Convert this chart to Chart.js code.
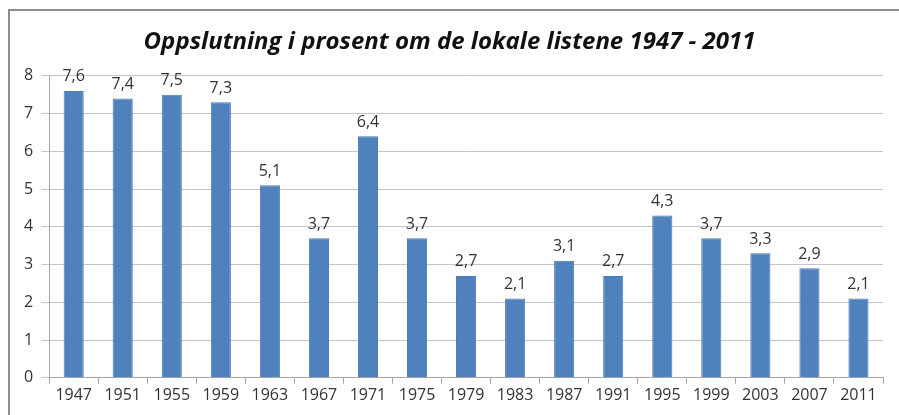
<!DOCTYPE html>
<html lang="no">
<head>
<meta charset="utf-8">
<title>Oppslutning lokale lister</title>
<style>
  body { margin: 0; background: #fff; }
  #wrap { position: relative; width: 899px; height: 415px; }
  #frame { position: absolute; left: 8px; top: 9px; width: 891px; height: 406px;
           border-left: 2px solid #8c8c8c; border-top: 2px solid #8c8c8c; box-sizing: border-box; }
  canvas { position: absolute; left: 0; top: 0; }
</style>
</head>
<body>
<div id="wrap">
  <div id="frame"></div>
  <canvas id="myChart" width="899" height="415"></canvas>
</div>
<script src="https://cdn.jsdelivr.net/npm/chart.js"></script>
<script>
  const years = ['1947', '1951', '1955', '1959', '1963', '1967', '1971', '1975', '1979',
                 '1983', '1987', '1991', '1995', '1999', '2003', '2007', '2011'];
  const share = [7.6, 7.4, 7.5, 7.3, 5.1, 3.7, 6.4, 3.7, 2.7, 2.1, 3.1, 2.7, 4.3, 3.7, 3.3, 2.9, 2.1];
  const titleText = 'Oppslutning i prosent om de lokale listene 1947 - 2011';

  const fmt = v => String(v).replace('.', ',');

  // labels over each bar
  const barLabels = {
    id: 'barLabels',
    afterDatasetsDraw(chart) {
      const ctx = chart.ctx;
      ctx.save();
      ctx.font = '16px "Open Sans", sans-serif';
      ctx.fillStyle = '#333';
      ctx.textAlign = 'center';
      ctx.textBaseline = 'bottom';
      chart.getDatasetMeta(0).data.forEach((bar, i) => {
        ctx.fillText(fmt(share[i]), bar.x, bar.y - 6);
      });
      ctx.restore();
    }
  };

  new Chart(document.getElementById('myChart'), {
    type: 'bar',
    data: {
      labels: years,
      datasets: [{
        data: share,
        backgroundColor: '#4f81bd',
        borderColor: '#4a7ab5',
        borderWidth: 1,
        categoryPercentage: 1,
        barPercentage: 0.41
      }]
    },
    options: {
      responsive: false,
      animation: false,
      layout: { padding: { left: 16, right: 16, top: 0, bottom: 8 } },
      plugins: {
        legend: { display: false },
        tooltip: { enabled: false },
        title: {
          display: true,
          text: titleText,
          color: '#111',
          font: { family: '"Open Sans", sans-serif', size: 24, weight: 'bold', style: 'italic' },
          padding: { top: 28, bottom: 19 }
        }
      },
      scales: {
        x: {
          grid: { display: true, drawOnChartArea: false, offset: true, tickLength: 6, color: '#a6a6a6' },
          border: { color: '#a6a6a6' },
          ticks: { color: '#333', font: { family: '"Open Sans", sans-serif', size: 16 }, padding: 2, maxRotation: 0 }
        },
        y: {
          min: 0,
          max: 8,
          ticks: { stepSize: 1, color: '#333', font: { family: '"Open Sans", sans-serif', size: 16 }, padding: 8 },
          grid: { color: '#c6c6c6', tickLength: 8 },
          border: { color: '#a6a6a6' }
        }
      }
    },
    plugins: [barLabels]
  });
</script>
</body>
</html>
